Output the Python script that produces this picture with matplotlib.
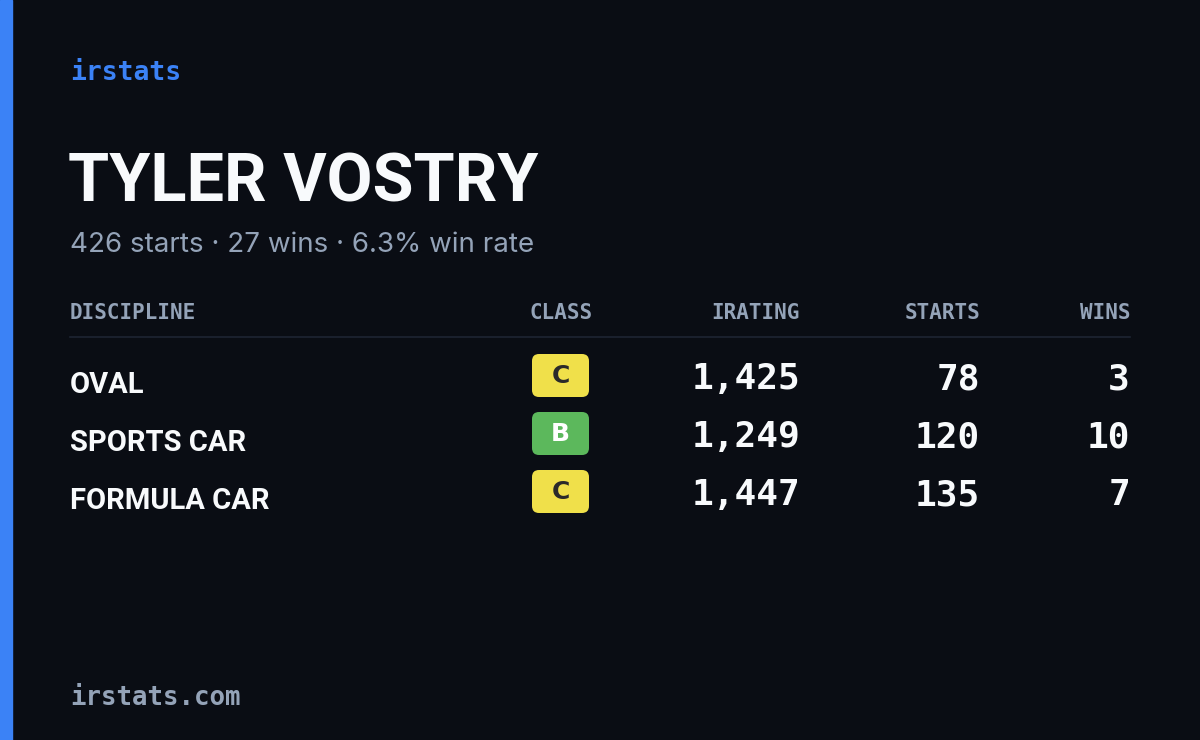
import matplotlib
matplotlib.use("Agg")
import matplotlib.pyplot as plt
from matplotlib.patches import FancyBboxPatch, Rectangle

name = "TYLER VOSTRY"
subtitle = "426 starts · 27 wins · 6.3% win rate"
headers = ["DISCIPLINE", "CLASS", "IRATING", "STARTS", "WINS"]
disciplines = ["OVAL", "SPORTS CAR", "FORMULA CAR"]
classes = ["C", "B", "C"]
iratings = [1425, 1249, 1447]
starts = [78, 120, 135]
wins = [3, 10, 7]

bg = "#0a0d14"
blue = "#3b82f6"
grey = "#94a3b8"
white = "#f8fafc"
class_colors = {"C": "#f0e04a", "B": "#5cb85c"}

fig = plt.figure(figsize=(12, 7.4), dpi=100, facecolor=bg)
ax = fig.add_axes([0, 0, 1, 1])
ax.set_xlim(0, 1200); ax.set_ylim(740, 0); ax.axis("off")
ax.set_facecolor(bg)
ax.add_patch(Rectangle((0, 0), 12, 740, color=blue))

mono = ["DejaVu Sans Mono"]
cond = ["Roboto", "DejaVu Sans"]
ax.text(70, 73, "irstats", color=blue, fontsize=19, family=mono, weight="bold", va="center")
ax.text(68, 183, name, color=white, fontsize=48, family=cond, weight="bold", va="center")
ax.text(70, 245, subtitle, color=grey, fontsize=20, family=["Inter", "DejaVu Sans"], va="center")

hx = [70, 593, 800, 980, 1130]
ha = ["left", "right", "right", "right", "right"]
for x, h, a in zip(hx, headers, ha):
    ax.text(x, 313, h, color=grey, fontsize=15, family=mono, weight="bold", ha=a, va="center")
ax.plot([70, 1130], [337, 337], color="#1e2533", lw=1.2)

ys = [383, 441, 499]
for i, y in enumerate(ys):
    ax.text(70, y + 2, disciplines[i], color=white, fontsize=21, family=cond, weight="bold", va="center")
    c = classes[i]
    ax.add_patch(FancyBboxPatch((532, y - 29), 57, 43, boxstyle="round,pad=0,rounding_size=7",
                                color=class_colors[c], lw=0))
    ax.text(560.5, y - 7, c, color="#2a2a2a" if c == "C" else "white", fontsize=18,
            weight="bold", ha="center", va="center")
    for x, v in [(800, f"{iratings[i]:,}"), (980, str(starts[i])), (1130, str(wins[i]))]:
        ax.text(x, y - 4, v, color=white, fontsize=26, family=mono, weight="bold", ha="right", va="center")

ax.text(70, 698, "irstats.com", color=grey, fontsize=18.5, family=mono, weight="bold", va="center")
fig.savefig("out.png", dpi=100, facecolor=bg)
